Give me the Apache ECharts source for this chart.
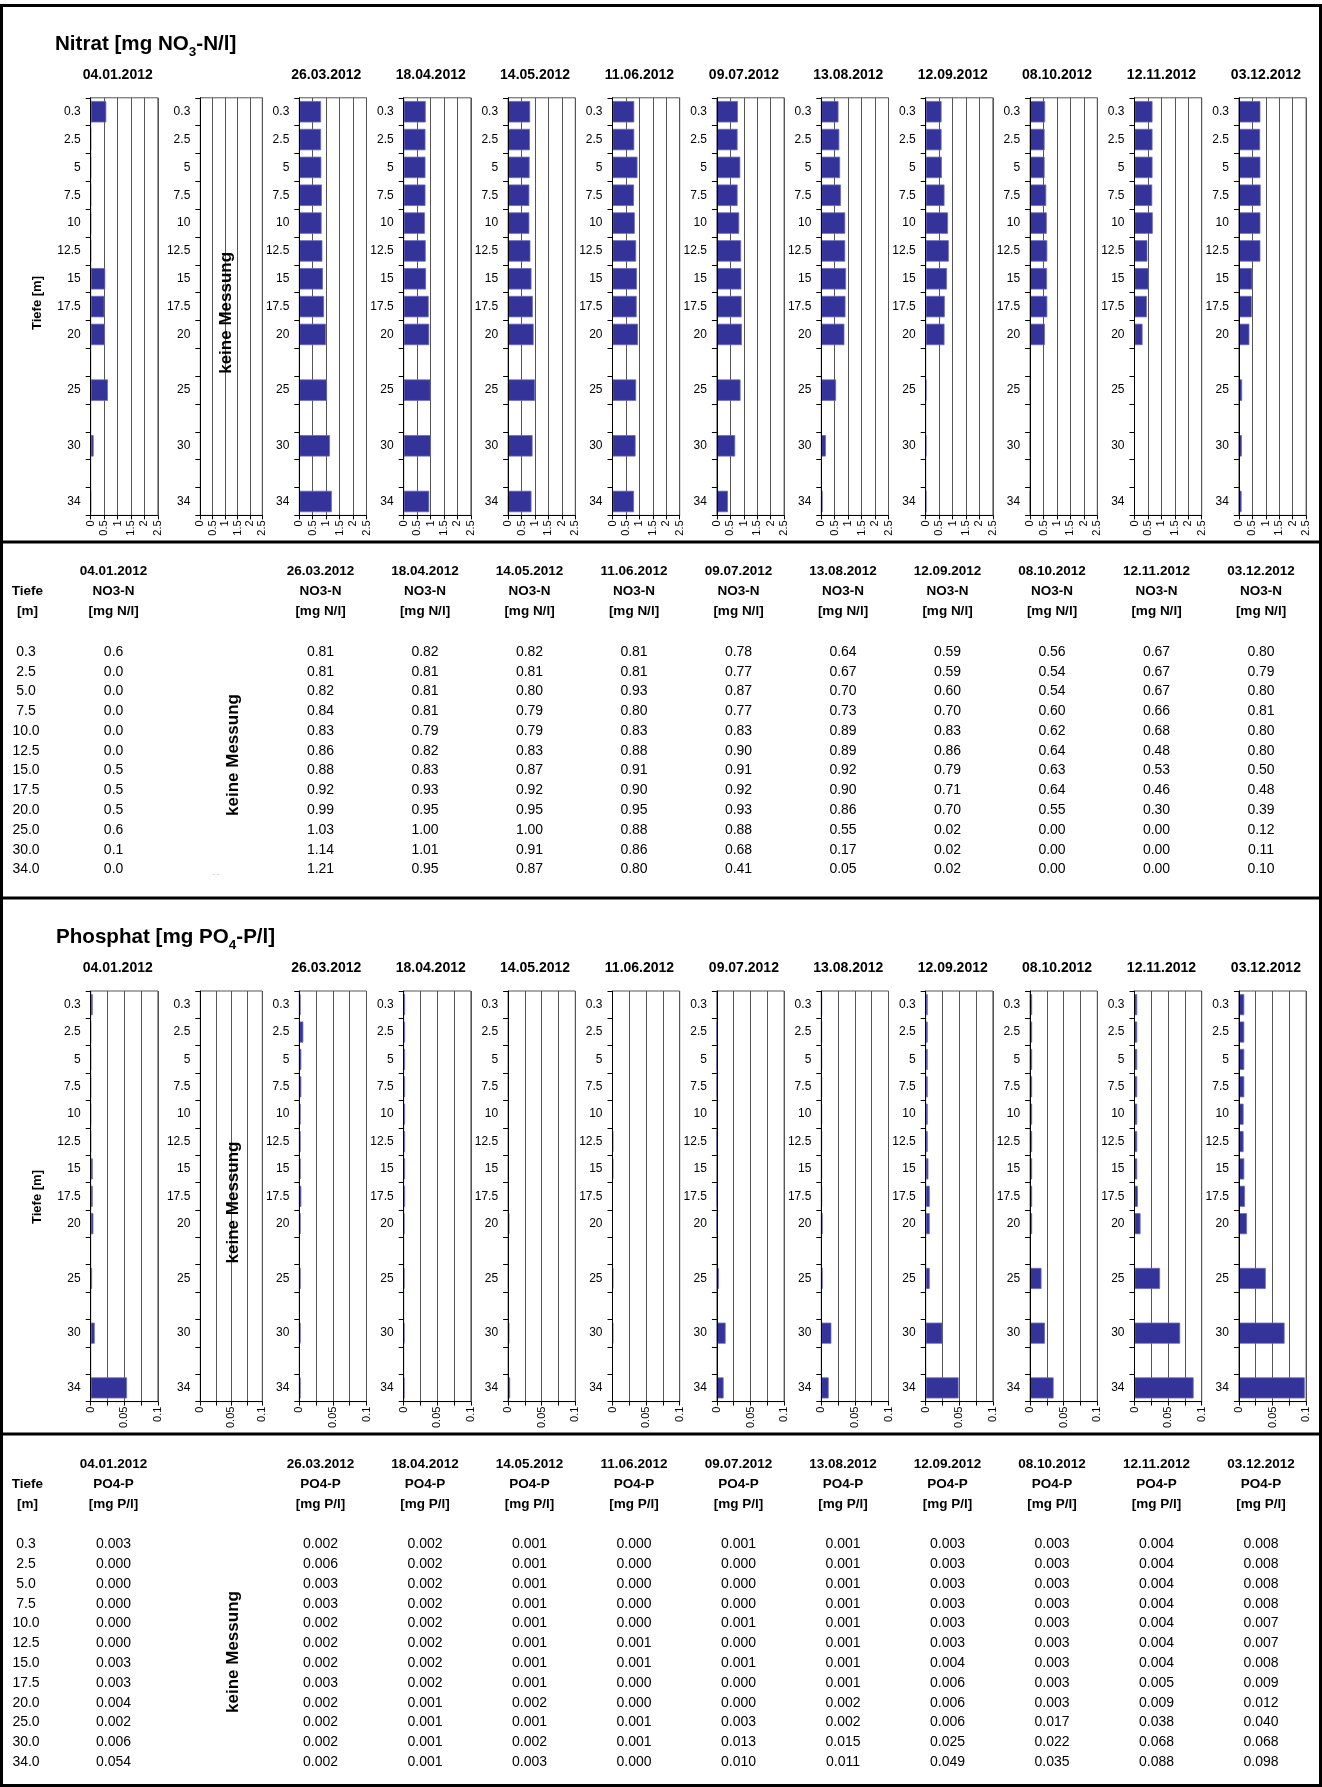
<!DOCTYPE html>
<html><head><meta charset="utf-8">
<script src="https://cdn.jsdelivr.net/npm/echarts@6/dist/echarts.min.js"></script>
<style>html,body{margin:0;padding:0;background:#fff}#c{width:1322px;height:1787px}</style>
</head><body><div id="c"></div>
<script>
// ---------- data ----------
const depthAxis = ['0.3','2.5','5','7.5','10','12.5','15','17.5','20','','25',' ','30','  ','34'];
const depthTable = ['0.3','2.5','5.0','7.5','10.0','12.5','15.0','17.5','20.0','25.0','30.0','34.0'];
const dates = ['04.01.2012','26.03.2012','18.04.2012','14.05.2012','11.06.2012','09.07.2012','13.08.2012','12.09.2012','08.10.2012','12.11.2012','03.12.2012'];
const no3Ticks = [0,0.5,1,1.5,2,2.5];
const po4Ticks = [0,0.05,0.1];

const no3_0401 = [0.58,0,0,0,0,0,0.54,0.51,0.53,0.64,0.11,0];
const no3_2603 = [0.81,0.81,0.82,0.84,0.83,0.86,0.88,0.92,0.99,1.03,1.14,1.21];
const no3_1804 = [0.82,0.81,0.81,0.81,0.79,0.82,0.83,0.93,0.95,1.00,1.01,0.95];
const no3_1405 = [0.82,0.81,0.80,0.79,0.79,0.83,0.87,0.92,0.95,1.00,0.91,0.87];
const no3_1106 = [0.81,0.81,0.93,0.80,0.83,0.88,0.91,0.90,0.95,0.88,0.86,0.80];
const no3_0907 = [0.78,0.77,0.87,0.77,0.83,0.90,0.91,0.92,0.93,0.88,0.68,0.41];
const no3_1308 = [0.64,0.67,0.70,0.73,0.89,0.89,0.92,0.90,0.86,0.55,0.17,0.05];
const no3_1209 = [0.59,0.59,0.60,0.70,0.83,0.86,0.79,0.71,0.70,0.02,0.02,0.02];
const no3_0810 = [0.56,0.54,0.54,0.60,0.62,0.64,0.63,0.64,0.55,0.00,0.00,0.00];
const no3_1211 = [0.67,0.67,0.67,0.66,0.68,0.48,0.53,0.46,0.30,0.00,0.00,0.00];
const no3_0312 = [0.80,0.79,0.80,0.81,0.80,0.80,0.50,0.48,0.39,0.12,0.11,0.10];
const no3Digits = [1,2,2,2,2,2,2,2,2,2,2];

const po4_0401 = [0.003,0.000,0.000,0.000,0.000,0.000,0.003,0.003,0.004,0.002,0.006,0.054];
const po4_2603 = [0.002,0.006,0.003,0.003,0.002,0.002,0.002,0.003,0.002,0.002,0.002,0.002];
const po4_1804 = [0.002,0.002,0.002,0.002,0.002,0.002,0.002,0.002,0.001,0.001,0.001,0.001];
const po4_1405 = [0.001,0.001,0.001,0.001,0.001,0.001,0.001,0.001,0.002,0.001,0.002,0.003];
const po4_1106 = [0.000,0.000,0.000,0.000,0.000,0.001,0.001,0.000,0.000,0.001,0.001,0.000];
const po4_0907 = [0.001,0.000,0.000,0.000,0.001,0.000,0.001,0.000,0.000,0.003,0.013,0.010];
const po4_1308 = [0.001,0.001,0.001,0.001,0.001,0.001,0.001,0.001,0.002,0.002,0.015,0.011];
const po4_1209 = [0.003,0.003,0.003,0.003,0.003,0.003,0.004,0.006,0.006,0.006,0.025,0.049];
const po4_0810 = [0.003,0.003,0.003,0.003,0.003,0.003,0.003,0.003,0.003,0.017,0.022,0.035];
const po4_1211 = [0.004,0.004,0.004,0.004,0.004,0.004,0.004,0.005,0.009,0.038,0.068,0.088];
const po4_0312 = [0.008,0.008,0.008,0.008,0.007,0.007,0.008,0.009,0.012,0.040,0.068,0.098];
const po4Digits = [3,3,3,3,3,3,3,3,3,3,3];

const no3Series = [no3_0401,no3_2603,no3_1804,no3_1405,no3_1106,no3_0907,no3_1308,no3_1209,no3_0810,no3_1211,no3_0312];
const po4Series = [po4_0401,po4_2603,po4_1804,po4_1405,po4_1106,po4_0907,po4_1308,po4_1209,po4_0810,po4_1211,po4_0312];

// ---------- layout ----------
const FONT = '"Liberation Sans", Arial, sans-serif';
const panelLeft = i => i === 0 ? 90.7 : (i === 1 ? 200.3 : 299.3 + 104.4 * (i - 2));
const panelWidth = i => i === 1 ? 62 : 67.2;
const panelDate = i => i === 0 ? 0 : (i === 1 ? -1 : i - 1);
const tableCol = j => j === 0 ? 113.6 : 320.5 + 104.5 * (j - 1);

const grids = [], xAxes = [], yAxes = [], series = [], graphics = [];

function slotData(vals) {
  const row = depthAxis.map(() => null);
  depthTable.forEach((d, i) => {
    const s = depthAxis.findIndex(c => c.trim() !== '' && parseFloat(c) === parseFloat(d));
    row[s] = vals[i];
  });
  return row;
}

function txt(x, y, text, font, opt) {
  opt = opt || {};
  return {
    type: 'text', x: x, y: y, rotation: opt.rot || 0, silent: true, z: 10,
    style: {
      text: text, font: font, fill: opt.fill || '#000',
      align: opt.align || 'center', textAlign: opt.align || 'center',
      verticalAlign: 'middle', textVerticalAlign: 'middle'
    }
  };
}

const cv = document.createElement('canvas').getContext('2d');
function measure(t, f) { cv.font = f; return cv.measureText(t).width; }

function title(x, y, parts) {
  const big = 'bold 20.6px ' + FONT, small = 'bold 13.5px ' + FONT;
  let cx = x;
  [[parts[0], big, 0], [parts[1], small, 8], [parts[2], big, 0]].forEach(p => {
    graphics.push(txt(cx, y + p[2], p[0], p[1], {align: 'left'}));
    cx += measure(p[0], p[1]);
  });
}

function chartSection(top, height, ticks, interval, seriesList, titleY, keineX, tiefeY) {
  for (let i = 0; i < 12; i++) {
    const gi = grids.length;
    grids.push({
      left: panelLeft(i), top: top, width: panelWidth(i), height: height,
      show: true, borderColor: '#555', borderWidth: 1, backgroundColor: 'transparent',
      outerBoundsMode: 'none', containLabel: false
    });
    xAxes.push({
      type: 'value', gridIndex: gi, min: ticks[0], max: ticks[ticks.length - 1], interval: interval,
      axisLine: {show: true, lineStyle: {color: '#000', width: 1}},
      axisTick: {show: true, length: 4, lineStyle: {color: '#000'}},
      splitLine: {show: true, lineStyle: {color: '#555', width: 1}},
      axisLabel: {
        rotate: 90, fontSize: 11, fontFamily: FONT, color: '#000', margin: 5,
        showMinLabel: true, showMaxLabel: true,
        formatter: v => {
          const hit = ticks.find(t => Math.abs(t - v) < 1e-9);
          return hit === undefined ? '' : String(hit);
        }
      }
    });
    yAxes.push({
      type: 'category', gridIndex: gi, inverse: true, data: depthAxis, z: 3,
      axisLine: {show: true, lineStyle: {color: '#000', width: 1}},
      axisTick: {show: true, length: 5, interval: 0, lineStyle: {color: '#000'}},
      splitLine: {show: false},
      axisLabel: {interval: 0, fontSize: 12, fontFamily: FONT, color: '#000', margin: 10}
    });
    const d = panelDate(i);
    if (d >= 0) {
      series.push({
        type: 'bar', xAxisIndex: gi, yAxisIndex: gi, barWidth: '77%',
        data: slotData(seriesList[d]),
        itemStyle: {color: '#333399', borderColor: '#6a6ac2', borderWidth: 0.8},
        emphasis: {disabled: true}, silent: true
      });
      graphics.push(txt(panelLeft(i) + 27, titleY, dates[d], 'bold 14px ' + FONT));
    }
  }
  graphics.push(txt(keineX, top + height * 0.515, 'keine Messung', 'bold 17px ' + FONT, {rot: Math.PI / 2}));
  graphics.push(txt(37.5, tiefeY, 'Tiefe [m]', 'bold 13px ' + FONT, {rot: Math.PI / 2}));
}

function tableSection(y0, rowY0, rowStep, param, unit, seriesList, digits, keineY) {
  const hb = 'bold 13.5px ' + FONT, rf = '14px ' + FONT;
  graphics.push(txt(27.4, y0 + 20, 'Tiefe', hb));
  graphics.push(txt(27.4, y0 + 40, '[m]', hb));
  dates.forEach((dt, j) => {
    const x = tableCol(j);
    graphics.push(txt(x, y0, dt, hb));
    graphics.push(txt(x, y0 + 20, param, hb));
    graphics.push(txt(x, y0 + 40, unit, hb));
    seriesList[j].forEach((v, r) => {
      graphics.push(txt(x, rowY0 + rowStep * r, v.toFixed(digits[j]), rf));
    });
  });
  depthTable.forEach((d, r) => graphics.push(txt(26, rowY0 + rowStep * r, d, rf)));
  graphics.push(txt(233, keineY, 'keine Messung', 'bold 17px ' + FONT, {rot: Math.PI / 2}));
}

// Nitrat chart
title(55, 44.5, ['Nitrat [mg NO', '3', '-N/l]']);
chartSection(97.8, 417.6, no3Ticks, no3Ticks[1] - no3Ticks[0], no3Series, 75.5, 226.5, 303);
// Nitrat table
tableSection(571.5, 652, 19.77, 'NO3-N', '[mg N/l]', no3Series, no3Digits, 755);
graphics.push(txt(216, 874, '- -', '8px ' + FONT, {fill: '#bbb'}));
// Phosphat chart
title(56, 937.5, ['Phosphat [mg PO', '4', '-P/l]']);
chartSection(991, 410.6, po4Ticks, 0.025, po4Series, 968.5, 233.3, 1197);
// Phosphat table
tableSection(1464, 1544.3, 19.8, 'PO4-P', '[mg P/l]', po4Series, po4Digits, 1652);

// frame
[[0, 4, 1322, 3], [0, 4, 3, 1783], [1319, 4, 3, 1783], [0, 1784, 1322, 3],
 [0, 540.5, 1322, 3], [0, 896.5, 1322, 3], [0, 1432.5, 1322, 3]].forEach(r => {
  graphics.push({type: 'rect', silent: true, z: 20, shape: {x: r[0], y: r[1], width: r[2], height: r[3]}, style: {fill: '#000'}});
});

const chart = echarts.init(document.getElementById('c'), null, {renderer: 'canvas', width: 1322, height: 1787});
chart.setOption({
  animation: false,
  backgroundColor: '#fff',
  textStyle: {fontFamily: FONT},
  grid: grids, xAxis: xAxes, yAxis: yAxes, series: series,
  graphic: {elements: graphics}
});
</script></body></html>
